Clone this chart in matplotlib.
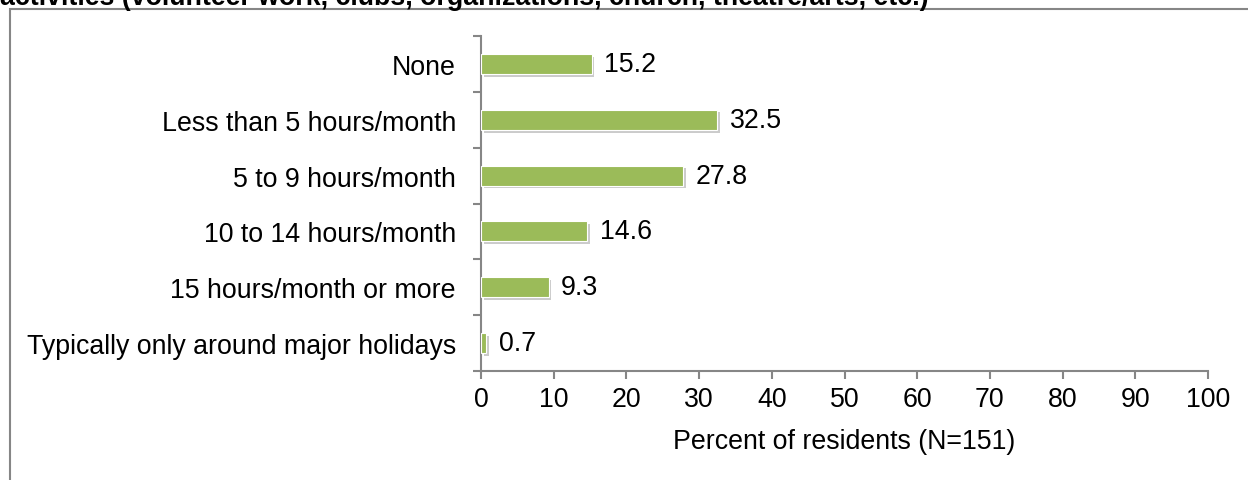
import matplotlib
matplotlib.use("Agg")
import matplotlib.pyplot as plt
from matplotlib.patches import Rectangle
import matplotlib.patheffects as pe

categories = ["None", "Less than 5 hours/month", "5 to 9 hours/month",
              "10 to 14 hours/month", "15 hours/month or more",
              "Typically only around major holidays"]
values = [15.2, 32.5, 27.8, 14.6, 9.3, 0.7]
xticks = [0, 10, 20, 30, 40, 50, 60, 70, 80, 90, 100]
title = "activities (volunteer work, clubs, organizations, church, theatre/arts, etc.)"
xlabel = "Percent of residents (N=151)"

plt.rcParams['font.family'] = ['Liberation Sans', 'DejaVu Sans']
W, H = 1248, 481
FS = 19.3
fig = plt.figure(figsize=(W/100, H/100), dpi=100)
axc = "#868686"

# outer chart border (partly off-canvas)
fig.patches.append(Rectangle((9.5/W, -0.1), 1.2, 1 - 9.5/H + 0.1,
                             transform=fig.transFigure, fill=False,
                             edgecolor=axc, linewidth=1.5))
fig.text(0.0, 1 - 5/H, title, fontsize=FS, fontweight='bold',
         ha='left', va='baseline')

ax = fig.add_axes([481/W, (H-372)/H, (1208-481)/W, (372-37)/H])
n = len(categories)
ypos = list(range(n))
bars = ax.barh(ypos, values, height=0.36, color="#9BBB59",
               edgecolor="white", linewidth=0.8, zorder=3)
for b in bars:
    b.set_path_effects([pe.SimplePatchShadow(offset=(2, -2), shadow_rgbFace='#999999', alpha=0.5),
                        pe.Normal()])
for y, v in zip(ypos, values):
    ax.annotate(f"{v:.1f}", (v, y), xytext=(9, 0), textcoords='offset points',
                va='center', ha='left', fontsize=FS)

ax.set_ylim(n - 0.5, -0.5)
ax.set_xlim(0, 100)
ax.set_xticks(xticks)
ax.set_xticklabels([str(t) for t in xticks], fontsize=FS)
ax.set_yticks(ypos)
ax.set_yticklabels(categories, fontsize=FS)
ax.set_yticks([i - 0.5 for i in range(n + 1)], minor=True)
ax.tick_params(axis='y', which='major', length=0, pad=18)
ax.tick_params(axis='y', which='minor', length=6, color=axc, width=1.5)
ax.tick_params(axis='x', which='major', length=6, color=axc, width=1.5, pad=5)
ax.set_xlabel(xlabel, fontsize=FS, labelpad=11)
for s in ['top', 'right']:
    ax.spines[s].set_visible(False)
for s in ['left', 'bottom']:
    ax.spines[s].set_color(axc)
    ax.spines[s].set_linewidth(1.5)

fig.savefig("out.png", dpi=100)
